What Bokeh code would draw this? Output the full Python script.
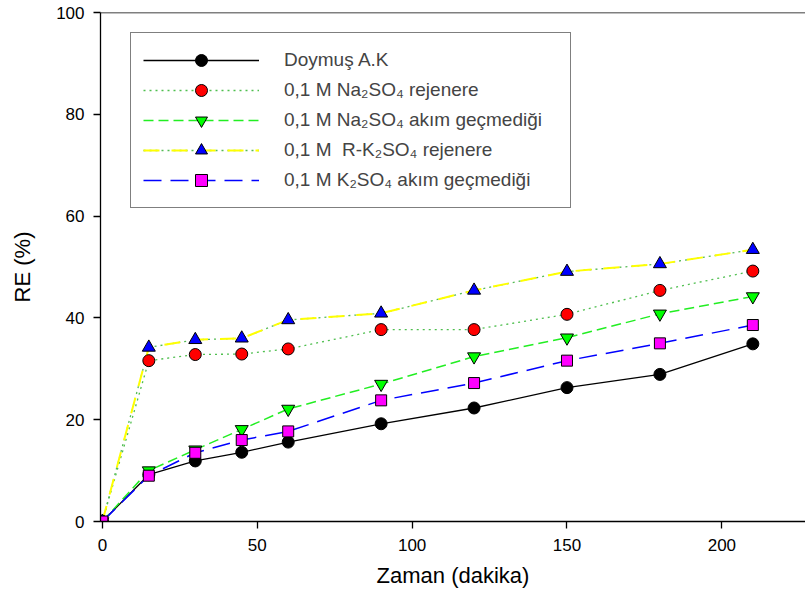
from bokeh.plotting import figure
from bokeh.models import Range1d, Legend, LegendItem, Span, FixedTicker
from bokeh.embed import file_html
from bokeh.resources import INLINE

# ---- data ----
time = [0, 15, 30, 45, 60, 90, 120, 150, 180, 210]
doymus = [0, 9.2, 11.9, 13.6, 15.6, 19.2, 22.3, 26.3, 28.9, 34.9]
na_rejenere = [0, 31.6, 32.8, 32.9, 33.9, 37.7, 37.7, 40.7, 45.4, 49.2]
na_akim = [0, 10.0, 14.1, 18.1, 22.1, 27.0, 32.4, 36.1, 40.8, 44.2]
rk_rejenere = [0, 34.2, 35.7, 36.0, 39.6, 40.9, 45.4, 49.1, 50.6, 53.4]
k_akim = [0, 9.0, 13.5, 16.0, 17.7, 23.8, 27.2, 31.6, 35.0, 38.6]

labels = [
    "Doymuş A.K",
    "0,1 M Na₂SO₄ rejenere",
    "0,1 M Na₂SO₄ akım geçmediği",
    "0,1 M\u00a0 R-K₂SO₄ rejenere",
    "0,1 M K₂SO₄ akım geçmediği",
]
x_ticks = [0, 50, 100, 150, 200]
y_ticks = [0, 20, 40, 60, 80, 100]

FONT = "Liberation Sans"

p = figure(width=805, height=599,
           x_range=Range1d(-0.6, 227), y_range=Range1d(0, 100),
           output_backend="svg", toolbar_location=None,
           min_border_left=100, min_border_right=0,
           min_border_top=12, min_border_bottom=78)
p.grid.visible = False
p.outline_line_color = None

for ax in (p.xaxis[0], p.yaxis[0]):
    ax.axis_line_color = "black"
    ax.axis_line_width = 1.3
    ax.major_tick_line_color = "black"
    ax.major_tick_line_width = 1.3
    ax.major_tick_out = 7
    ax.major_tick_in = 0
    ax.minor_tick_line_color = None
    ax.major_label_text_font = FONT
    ax.major_label_text_font_size = "17px"
    ax.major_label_text_color = "black"
    ax.axis_label_text_font = FONT
    ax.axis_label_text_font_size = "22px"
    ax.axis_label_text_font_style = "normal"
    ax.axis_label_text_color = "black"

p.xaxis.ticker = FixedTicker(ticks=x_ticks)
p.yaxis.ticker = FixedTicker(ticks=y_ticks)
p.xaxis.axis_label = "Zaman (dakika)"
p.yaxis.axis_label = "RE (%)"
p.xaxis.major_label_standoff = 10
p.xaxis.axis_label_standoff = 9
p.yaxis.major_label_standoff = 9
p.yaxis.axis_label_standoff = 18

p.add_layout(Span(location=100, dimension="width", line_color="black", line_width=1.3))

# ---- lines ----
l1 = p.line(time, doymus, line_color="black", line_width=1.3)
l2 = p.line(time, na_rejenere, line_color="#4fbf4f", line_width=1.3, line_dash="2 4")
l3 = p.line(time, na_akim, line_color="#22ee22", line_width=1.5, line_dash="10 5")
l4a = p.line(time, rk_rejenere, line_color="#55bb55", line_width=1.3, line_dash="2 4")
l4b = p.line(time, rk_rejenere, line_color="#ffff00", line_width=2, line_dash="16 12")
l5 = p.line(time, k_akim, line_color="#0000ff", line_width=1.5, line_dash="18 9")

# ---- markers ----
m1 = p.scatter(time, doymus, marker="circle", size=12, fill_color="black", line_color="black")
m2 = p.scatter(time, na_rejenere, marker="circle", size=12, fill_color="#ff0000", line_color="black")
m3 = p.scatter(time, na_akim, marker="inverted_triangle", size=13, fill_color="#00ff00", line_color="black")
m4 = p.scatter(time, rk_rejenere, marker="triangle", size=13, fill_color="#0000ff", line_color="black")
m5 = p.scatter(time, k_akim, marker="square", size=11, fill_color="#ff00ff", line_color="black")

legend = Legend(items=[
    LegendItem(label=labels[0], renderers=[l1, m1]),
    LegendItem(label=labels[1], renderers=[l2, m2]),
    LegendItem(label=labels[2], renderers=[l3, m3]),
    LegendItem(label=labels[3], renderers=[l4a, l4b, m4]),
    LegendItem(label=labels[4], renderers=[l5, m5]),
], location=(30, 313), glyph_width=116, glyph_height=30, label_height=30,
   label_width=274, spacing=0, padding=12, label_standoff=25, margin=0,
   label_text_font=FONT, label_text_font_size="19px",
   border_line_color="black", border_line_width=1.3,
   background_fill_color="white", background_fill_alpha=1)
p.add_layout(legend)

open("out.html", "w").write(file_html(p, INLINE))
